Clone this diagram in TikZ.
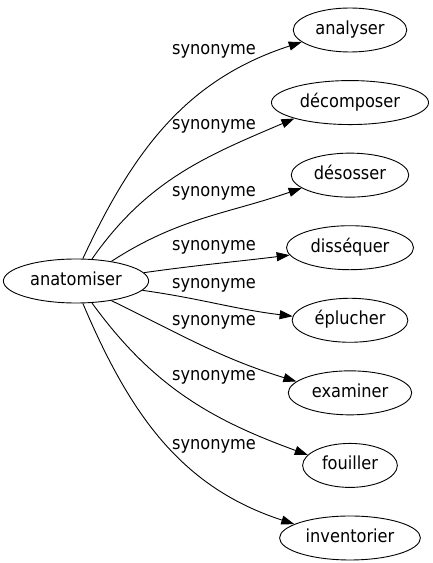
\documentclass[tikz,border=0pt]{standalone}
\usepackage{fontspec}
\setmainfont{DejaVu Sans Condensed}
\usetikzlibrary{positioning,chains,shapes,arrows.meta}

\begin{document}
\begin{tikzpicture}[
x=1pt,y=1pt,
line width=0.9pt,
every node/.style={font=\fontsize{18}{22}\selectfont},
word/.style={draw,ellipse,minimum height=44pt,inner xsep=5.5pt,text height=13pt,text depth=4pt},
rel/.style={-{Triangle[length=13pt,width=9pt]}},
lbl/.style={anchor=mid},
]
\useasboundingbox (0,0) rectangle (433,563);

\node[word] (ana) at (76,282) {anatomiser};

\begin{scope}[xshift=350pt,yshift=533pt,start chain=going below,node distance=27.67pt]
\node[word,on chain] (s1) {analyser};
\node[word,on chain] (s2) {décomposer};
\node[word,on chain] (s3) {désosser};
\node[word,on chain] (s4) {disséquer};
\node[word,on chain] (s5) {éplucher};
\node[word,on chain] (s6) {examiner};
\node[word,on chain] (s7) {fouiller};
\node[word,on chain] (s8) {inventorier};
\end{scope}

\draw[rel] (ana.73) to[out=65,in=198] (s1.194);
\draw[rel] (ana.54) to[out=55,in=203] (s2.196);
\draw[rel] (ana.29) to[out=33,in=199] (s3.195);
\draw[rel] (ana.7) to[out=8,in=187] (s4.187);
\draw[rel] (ana.-8) to[out=-8,in=173] (s5.176);
\draw[rel] (ana.-29) to[out=-26,in=163] (s6.168);
\draw[rel] (ana.-54) to[out=-54,in=160] (s7.166);
\draw[rel] (ana.-73) to[out=-67,in=162] (s8.166);

\node[lbl] (l1) at (214,511) {synonyme};
\node[lbl] (l2) at (214,436) {synonyme};
\node[lbl] (l3) at (214,369) {synonyme};
\node[lbl] (l4) at (214,315) {synonyme};
\node[lbl] (l5) at (214,277) {synonyme};
\node[lbl] (l6) at (214,240) {synonyme};
\node[lbl] (l7) at (214,185) {synonyme};
\node[lbl] (l8) at (214,116) {synonyme};

\end{tikzpicture}
\end{document}
